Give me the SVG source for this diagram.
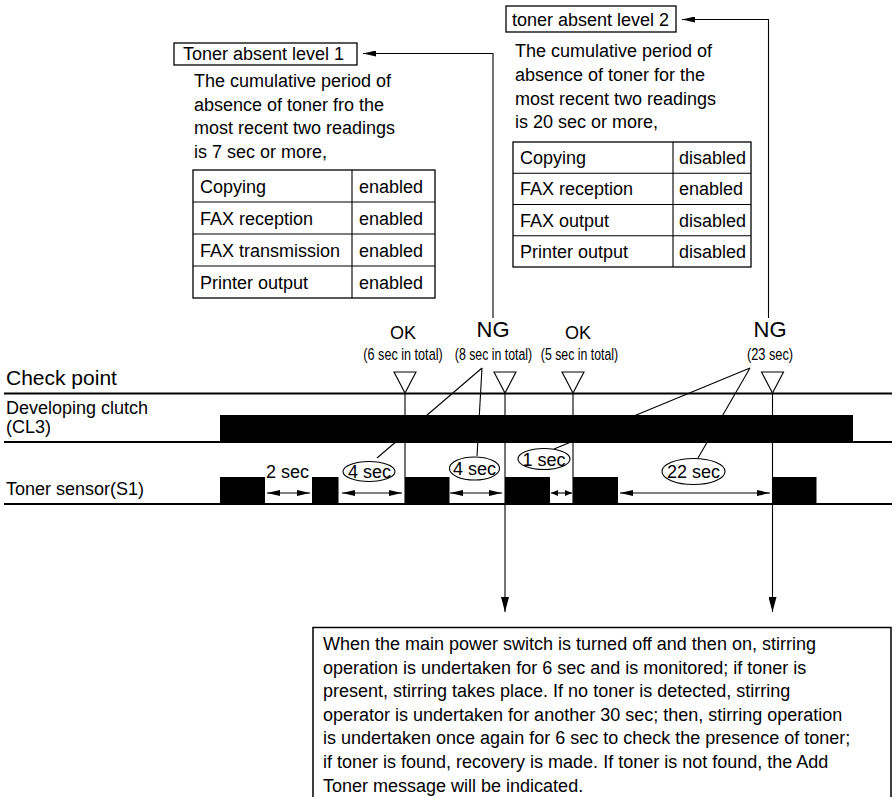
<svg xmlns="http://www.w3.org/2000/svg" width="896" height="797" viewBox="0 0 896 797">
<style>
text{font-family:"Liberation Sans",Arial,sans-serif;fill:#000}
.t18{font-size:18px}
.t17{font-size:18px}
.cond{font-size:16px}
.big{font-size:22px}
.ok{font-size:18px}
.bx{fill:#fff;stroke:#000;stroke-width:1.3}
.ln{stroke:#000;stroke-width:1.1;fill:none}
.thick{stroke:#000;stroke-width:2.2;fill:none}
.blk{fill:#000}
.ell{fill:#fff;stroke:#000;stroke-width:1.1}
</style>
<defs>
<marker id="ah" markerUnits="userSpaceOnUse" markerWidth="14" markerHeight="6" refX="13" refY="3" orient="auto-start-reverse" viewBox="0 0 14 6"><path d="M0,0 L13,3 L0,6 z" fill="#000"/></marker>
<marker id="ahs" markerUnits="userSpaceOnUse" markerWidth="8" markerHeight="6" refX="7" refY="3" orient="auto-start-reverse" viewBox="0 0 8 6"><path d="M0,0 L7,3 L0,6 z" fill="#000"/></marker>
<marker id="ahd" markerUnits="userSpaceOnUse" markerWidth="16" markerHeight="8" refX="15" refY="4" orient="auto" viewBox="0 0 16 8"><path d="M0,0 L15,4 L0,8 z" fill="#000"/></marker>
</defs>

<!-- Level 1 -->
<g id="level1">
<rect class="bx" x="174" y="43" width="183" height="22"/>
<text class="t18" x="183" y="60">Toner absent level 1</text>
<text class="t18" x="194" y="87">The cumulative period of</text>
<text class="t18" x="194" y="110.5">absence of toner fro the</text>
<text class="t18" x="194" y="134">most recent two readings</text>
<text class="t18" x="194" y="157.5">is 7 sec or more,</text>
</g>
<g id="table1">
<rect class="bx" x="193" y="170" width="242" height="128"/>
<path class="ln" d="M352,170 V298 M193,202 H435 M193,234 H435 M193,266 H435"/>
<text class="t17" x="200" y="192.5">Copying</text><text class="t17" x="359" y="192.5">enabled</text>
<text class="t17" x="200" y="224.5">FAX reception</text><text class="t17" x="359" y="224.5">enabled</text>
<text class="t17" x="200" y="256.5">FAX transmission</text><text class="t17" x="359" y="256.5">enabled</text>
<text class="t17" x="200" y="288.5">Printer output</text><text class="t17" x="359" y="288.5">enabled</text>
</g>

<!-- Level 2 -->
<g id="level2">
<rect class="bx" x="506" y="6" width="170" height="26"/>
<text class="t18" x="512" y="25.5">toner absent level 2</text>
<text class="t18" x="515" y="57">The cumulative period of</text>
<text class="t18" x="515" y="81">absence of toner for the</text>
<text class="t18" x="515" y="104.5">most recent two readings</text>
<text class="t18" x="515" y="128">is 20 sec or more,</text>
</g>
<g id="table2">
<rect class="bx" x="513" y="142" width="238" height="125"/>
<path class="ln" d="M673,142 V267 M513,173.25 H751 M513,204.5 H751 M513,235.75 H751"/>
<text class="t17" x="520" y="164">Copying</text><text class="t17" x="679" y="164">disabled</text>
<text class="t17" x="520" y="195">FAX reception</text><text class="t17" x="679" y="195">enabled</text>
<text class="t17" x="520" y="226.5">FAX output</text><text class="t17" x="679" y="226.5">disabled</text>
<text class="t17" x="520" y="257.5">Printer output</text><text class="t17" x="679" y="257.5">disabled</text>
</g>

<!-- Timeline rows -->
<g id="rows">
<text style="font-size:21px" x="6" y="385">Check point</text>
<text class="t18" x="6" y="414">Developing clutch</text>
<text class="t18" x="6" y="433">(CL3)</text>
<text class="t18" x="6" y="495">Toner sensor(S1)</text>
<path class="thick" d="M4,393.5 H892 M4,442 H892 M4,504 H892"/>
</g>

<!-- leader lines (behind bar) -->
<g id="leaders">
<path class="ln" d="M482,368 L377,458 M482,368 L477,456 M750,368 L554,449 M750,368 L698,458"/>
</g>

<g id="clutch">
<rect class="blk" x="220" y="415" width="633" height="27"/>
</g>
<g id="sensor">
<rect class="blk" x="220" y="477" width="45" height="27"/>
<rect class="blk" x="312" y="477" width="26.5" height="27"/>
<rect class="blk" x="405" y="477" width="44.5" height="27"/>
<rect class="blk" x="505" y="477" width="45" height="27"/>
<rect class="blk" x="573" y="477" width="45" height="27"/>
<rect class="blk" x="772.5" y="477" width="44" height="27"/>
</g>

<!-- check points -->
<g id="cp-ok1">
<path class="ln" d="M394,372 H416 L405,393 Z"/>
<text class="ok" x="403" y="339" text-anchor="middle">OK</text>
<text class="cond" transform="translate(403,360) scale(0.79,1)" text-anchor="middle">(6 sec in total)</text>
</g>
<g id="cp-ng1">
<path class="ln" d="M494,372 H516 L505,393 Z"/>
<text class="big" x="493" y="337" text-anchor="middle">NG</text>
<text class="cond" transform="translate(493.5,360) scale(0.77,1)" text-anchor="middle">(8 sec in total)</text>
</g>
<g id="cp-ok2">
<path class="ln" d="M562,372 H584 L573,393 Z"/>
<text class="ok" x="578" y="339" text-anchor="middle">OK</text>
<text class="cond" transform="translate(579.5,360) scale(0.77,1)" text-anchor="middle">(5 sec in total)</text>
</g>
<g id="cp-ng2">
<path class="ln" d="M761.5,372 H783.5 L772.5,393 Z"/>
<text class="big" x="770" y="337" text-anchor="middle">NG</text>
<text class="cond" transform="translate(770,360) scale(0.8,1)" text-anchor="middle">(23 sec)</text>
</g>

<!-- durations -->
<g id="durations">
<text class="t18" x="266" y="478">2 sec</text>
<ellipse class="ell" cx="369" cy="471.5" rx="26" ry="10"/>
<text class="t18" x="369.5" y="478" text-anchor="middle">4 sec</text>
<ellipse class="ell" cx="474.5" cy="468.5" rx="25" ry="11.5"/>
<text class="t18" x="474.5" y="475" text-anchor="middle">4 sec</text>
<ellipse class="ell" cx="544" cy="459" rx="26" ry="10.5"/>
<text class="t18" x="544" y="466" text-anchor="middle">1 sec</text>
<ellipse class="ell" cx="693.5" cy="471.5" rx="31.5" ry="13"/>
<text class="t18" x="693.5" y="478" text-anchor="middle">22 sec</text>
</g>

<g id="connectors">
<path class="ln" d="M405,393 V504 M573,393 V504"/>
<path class="ln" d="M505,393 V612" marker-end="url(#ahd)"/>
<path class="ln" d="M772.5,393 V612" marker-end="url(#ahd)"/>
<path class="ln" d="M493,318 V53.5 H363" marker-end="url(#ah)"/>
<path class="ln" d="M768.5,318 V19.5 H682" marker-end="url(#ah)"/>
<path class="ln" d="M267,493 H310" marker-start="url(#ah)" marker-end="url(#ah)"/>
<path class="ln" d="M342,493 H402" marker-start="url(#ah)" marker-end="url(#ah)"/>
<path class="ln" d="M450,493 H502" marker-start="url(#ah)" marker-end="url(#ah)"/>
<path class="ln" d="M551,493 H572" marker-start="url(#ahs)" marker-end="url(#ahs)"/>
<path class="ln" d="M620,493 H770" marker-start="url(#ah)" marker-end="url(#ah)"/>
</g>

<g id="note">
<path d="M313,800 V627.5 H891 V800" fill="#fff" stroke="#000" stroke-width="1.5"/>
<text class="t18" x="323" y="650">When the main power switch is turned off and then on, stirring</text>
<text class="t18" x="323" y="673.6">operation is undertaken for 6 sec and is monitored; if toner is</text>
<text class="t18" x="323" y="697.2">present, stirring takes place. If no toner is detected, stirring</text>
<text class="t18" x="323" y="720.8">operator is undertaken for another 30 sec; then, stirring operation</text>
<text class="t18" x="323" y="744.4">is undertaken once again for 6 sec to check the presence of toner;</text>
<text class="t18" x="323" y="768">if toner is found, recovery is made. If toner is not found, the Add</text>
<text class="t18" x="323" y="791.6">Toner message will be indicated.</text>
</g>
</svg>
